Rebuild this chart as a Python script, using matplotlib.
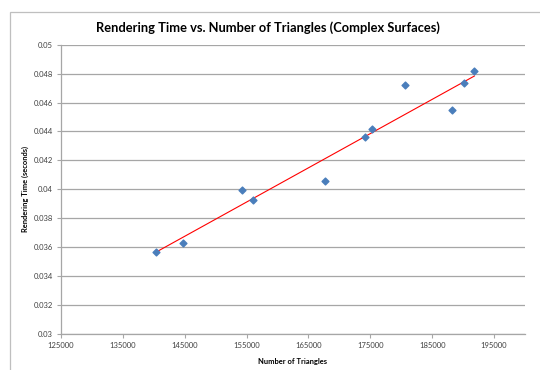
import numpy as np
import matplotlib
matplotlib.use("Agg")
import matplotlib.pyplot as plt
from matplotlib.patches import Rectangle

triangles = [140350, 144720, 154290, 156000, 167740, 174110, 175240, 180590, 188210, 190200, 191820]
render_time = [0.0357, 0.03627, 0.03997, 0.03925, 0.04056, 0.04365, 0.04416, 0.04718, 0.04552, 0.04737, 0.04817]
x_ticks = [125000, 135000, 145000, 155000, 165000, 175000, 185000, 195000]
y_ticks = [0.03, 0.032, 0.034, 0.036, 0.038, 0.04, 0.042, 0.044, 0.046, 0.048, 0.05]
y_tick_labels = ["0.03", "0.032", "0.034", "0.036", "0.038", "0.04", "0.042", "0.044", "0.046", "0.048", "0.05"]

plt.rcParams['font.family'] = ['Lato', 'DejaVu Sans']

fig = plt.figure(figsize=(5.4, 3.7), dpi=100)
W, H = 540, 370
fig.patches.append(Rectangle((10 / W, 0 - 0.1), 1.2, (H - 11.5) / H + 0.1, transform=fig.transFigure,
                             fill=False, edgecolor='#bfbfbf', linewidth=0.9))

ax = fig.add_axes([61 / W, 1 - 334 / H, (525 - 61) / W, (334 - 44.7) / H])
ax.set_xlim(125000, 200000)
ax.set_ylim(0.03, 0.05)
ax.set_xticks(x_ticks)
ax.set_xticklabels([str(v) for v in x_ticks])
ax.set_yticks(y_ticks)
ax.set_yticklabels(y_tick_labels)

ax.grid(axis='y', color='#a6a6a6', linewidth=0.9)
ax.set_axisbelow(True)
for s in ['top', 'right']:
    ax.spines[s].set_visible(False)
for s in ['left', 'bottom']:
    ax.spines[s].set_color('#a6a6a6')
    ax.spines[s].set_linewidth(0.9)
ax.tick_params(axis='both', which='major', direction='out', length=3, width=0.8, color='#a6a6a6',
               labelsize=5.5, labelcolor='#404040', pad=3)

xs = np.array(triangles)
ys = np.array(render_time)
slope, intercept = np.polyfit(xs, ys, 1)
xl = np.array([xs.min(), xs.max()])
ax.plot(xl, slope * xl + intercept, color='#ff0000', linewidth=0.8, zorder=2)
ax.scatter(xs, ys, marker='D', s=12, color='#4a7ebb', edgecolors='#4a7ebb', zorder=3)

fig.text(268 / W, 1 - 28 / H, "Rendering Time vs. Number of Triangles (Complex Surfaces)",
         ha='center', va='center', fontsize=9.3, fontweight='bold', color='#000000')
fig.text(293 / W, 1 - 361.5 / H, "Number of Triangles", ha='center', va='center',
         fontsize=5.4, fontweight='bold', color='#000000')
fig.text(25 / W, 1 - 189 / H, "Rendering Time (seconds)", ha='center', va='center',
         rotation=90, fontsize=5.4, fontweight='bold', color='#000000')

fig.savefig("out.png", dpi=100)
